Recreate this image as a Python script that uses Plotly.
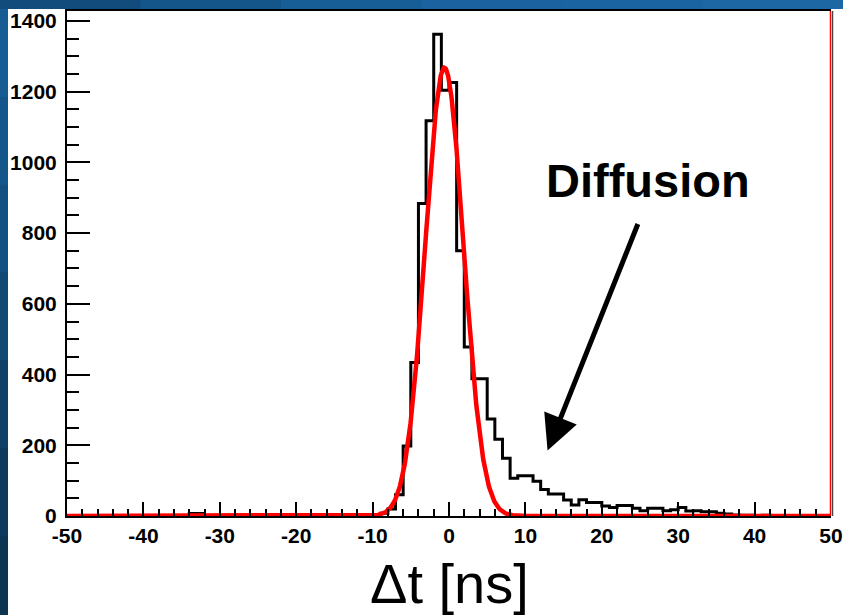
import numpy as np
import plotly.graph_objects as go

# Time-difference histogram: 100 bins of 1 ns from -50 to 50 ns
bin_low_edges = list(range(-50, 50))
counts = [
    0, 0, 0, 0, 0, 0, 0, 0, 0, 0,                 # -50 .. -41
    0, 0, 0, 0, 0, 0, 7, 7, 0, 0,                 # -40 .. -31
    0, 0, 0, 0, 0, 0, 0, 0, 0, 0,                 # -30 .. -21
    0, 0, 0, 0, 0, 0, 0, 0, 0, 1,                 # -20 .. -11
    3, 8, 20, 60, 198, 434, 884, 1118, 1362, 1204,  # -10 .. -1
    1226, 750, 478, 388, 388, 274, 217, 163, 107, 114,  # 0 .. 9
    114, 98, 75, 62, 62, 45, 31, 46, 38, 38,      # 10 .. 19
    28, 24, 30, 30, 22, 15, 22, 22, 15, 18,       # 20 .. 29
    24, 14, 15, 12, 12, 8, 6, 3, 2, 2,            # 30 .. 39
    1, 2, 0, 1, 0, 0, 1, 0, 0, 0,                 # 40 .. 49
]

# Gaussian fit parameters (constant, mean [ns], sigma [ns])
fit_constant = 1268.0
fit_mean = -0.6
fit_sigma = 2.5

x_tick_values = [-50, -40, -30, -20, -10, 0, 10, 20, 30, 40, 50]
x_tick_labels = ["-50", "-40", "-30", "-20", "-10", "0", "10", "20", "30", "40", "50"]
y_tick_values = [0, 200, 400, 600, 800, 1000, 1200, 1400]
y_tick_labels = ["0", "200", "400", "600", "800", "1000", "1200", "1400"]

x_range = [-50, 50]
y_range = [0, 1428]

edges = bin_low_edges + [bin_low_edges[-1] + 1]
step_y = counts + [counts[-1]]

fit_x = np.linspace(x_range[0], x_range[1], 2001)
fit_y = fit_constant * np.exp(-0.5 * ((fit_x - fit_mean) / fit_sigma) ** 2)

fig = go.Figure()
fig.add_trace(go.Scatter(
    x=edges, y=step_y, mode="lines", line_shape="hv",
    line=dict(color="black", width=3), cliponaxis=False,
    showlegend=False, hoverinfo="skip",
))
fig.add_trace(go.Scatter(
    x=fit_x, y=fit_y, mode="lines",
    line=dict(color="#ff0000", width=4.5), cliponaxis=False,
    showlegend=False, hoverinfo="skip",
))

tick_font = dict(family="Liberation Sans, Arial, sans-serif", size=21,
                 color="black", weight="bold")

fig.update_xaxes(
    range=x_range, showgrid=False, zeroline=False, automargin=False,
    showline=True, linecolor="black", linewidth=2, mirror=True,
    ticks="inside", ticklen=14, tickwidth=1.5, tickcolor="black",
    tickvals=x_tick_values, ticktext=x_tick_labels, tickfont=tick_font,
    ticklabelstandoff=0,
    minor=dict(ticks="inside", ticklen=7, tickwidth=1.5,
               tickcolor="black", dtick=2, tick0=-50, showgrid=False),
)
fig.update_yaxes(
    range=y_range, showgrid=False, zeroline=False, automargin=False,
    showline=True, linecolor="black", linewidth=2, mirror=False,
    ticks="inside", ticklen=23, tickwidth=1.5, tickcolor="black",
    tickvals=y_tick_values, ticktext=y_tick_labels, tickfont=tick_font,
    ticklabelstandoff=4,
    minor=dict(ticks="inside", ticklen=12, tickwidth=1.5,
               tickcolor="black", dtick=50, tick0=0, showgrid=False),
)

shapes = []
# slide backdrop: blue band along the top and down the left edge
top_blues = ["#124c7c", "#14568a", "#175e96", "#1a62a0", "#1b64a2", "#1d67a5"]
n = len(top_blues)
for i, c in enumerate(top_blues):
    shapes.append(dict(type="rect", xref="paper", yref="paper", layer="below",
                       x0=-67 / 764 + i * (843 / 764) / n,
                       x1=-67 / 764 + (i + 1) * (843 / 764) / n + 0.002,
                       y0=1 + 2 / 505, y1=1 + 11 / 505,
                       line=dict(width=0), fillcolor=c))
left_blues = ["#175c93", "#15568a", "#134f80", "#114874", "#0f4067", "#0d3a5c", "#0c3552"]
m = len(left_blues)
for i, c in enumerate(left_blues):
    shapes.append(dict(type="rect", xref="paper", yref="paper", layer="below",
                       x0=-67 / 764, x1=-59 / 764,
                       y0=1 + 2 / 505 - (i + 1) * (615 / 505) / m - 0.002,
                       y1=1 + 2 / 505 - i * (615 / 505) / m,
                       line=dict(width=0), fillcolor=c))
# right frame edge drawn in the fit colour, with a dark rim
shapes.append(dict(type="line", xref="paper", yref="paper",
                   x0=1 + 1.5 / 764, x1=1 + 1.5 / 764, y0=0, y1=1,
                   line=dict(color="#444444", width=1.5)))
shapes.append(dict(type="line", xref="x", yref="paper",
                   x0=50, x1=50, y0=0, y1=1,
                   line=dict(color="#ff0000", width=2.5)))
fig.update_layout(shapes=shapes)

fig.add_annotation(
    x=26.0, y=950, xref="x", yref="y", text="<b>Diffusion</b>",
    showarrow=False, xanchor="center", yanchor="middle",
    font=dict(family="Liberation Sans, Arial, sans-serif", size=47, color="black"),
)
fig.add_annotation(
    x=12.9, y=185, xref="x", yref="y", ax=24.8, ay=830,
    axref="x", ayref="y", text="", showarrow=True,
    arrowhead=2, arrowsize=1.4, arrowwidth=5, arrowcolor="black",
)
fig.add_annotation(
    x=0.5, y=0, xref="paper", yref="paper", text="\u0394t [ns]",
    showarrow=False, xanchor="center", yanchor="middle", yshift=-67,
    font=dict(family="Liberation Sans, Arial, sans-serif", size=56, color="black"),
)

fig.update_layout(
    width=843, height=615,
    margin=dict(l=67, r=12, t=11, b=99, autoexpand=False),
    paper_bgcolor="white", plot_bgcolor="white",
    showlegend=False,
)

fig.write_html("out.html")
